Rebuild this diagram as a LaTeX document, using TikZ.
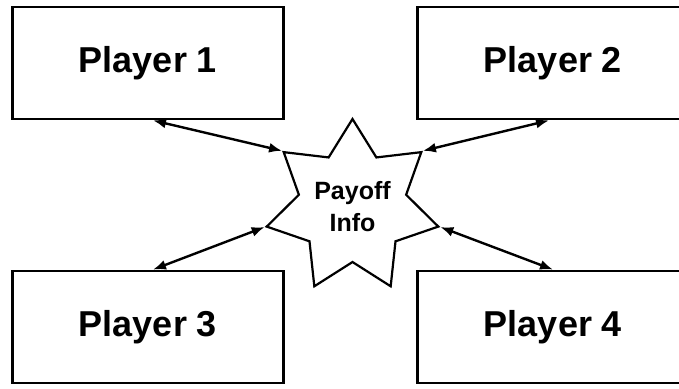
\documentclass[tikz,border=0pt]{standalone}
\usepackage{fontspec}
\setmainfont{Liberation Sans}
\usetikzlibrary{arrows.meta,shapes.geometric}

\begin{document}
\begin{tikzpicture}[x=1pt,y=-1pt,>={Latex[length=13pt,width=10pt]},
  player/.style={draw,line width=2.8pt,rectangle,minimum width=271pt,minimum height=112pt,
    font=\fontsize{36}{42}\selectfont\bfseries},
  payoff/.style={draw,line width=2.2pt,star,star points=7,star point ratio=1.6,
    minimum size=176pt,inner sep=0pt,align=center,font=\fontsize{25}{32}\selectfont\bfseries},
  link/.style={<->,line width=2.4pt}]
  \useasboundingbox (0,0) rectangle (679,388);
  \node[player] (p1) at (148,63) {Player 1};
  \node[player] (p2) at (553,63) {Player 2};
  \node[player] (p3) at (148,327) {Player 3};
  \node[player] (p4) at (553,327) {Player 4};
  \node[payoff] (info) at (352.5,207) {Payoff\\Info};
  \draw[link] ([xshift=5pt]p1.south) -- (info.outer point 2);
  \draw[link] (info.outer point 7) -- ([xshift=-4pt]p2.south);
  \draw[link] (info.outer point 3) -- ([xshift=5pt]p3.north);
  \draw[link] (info.outer point 6) -- (p4.north);
\end{tikzpicture}
\end{document}
